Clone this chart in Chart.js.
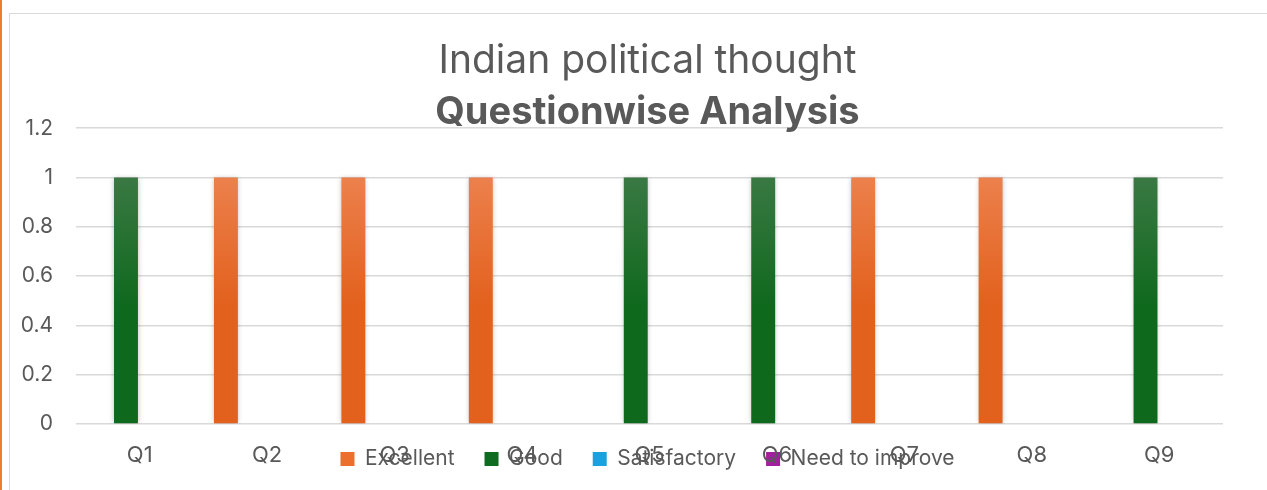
<!DOCTYPE html>
<html>
<head>
<meta charset="utf-8">
<script src="https://cdn.jsdelivr.net/npm/chart.js@4"></script>
<style>
  html, body { margin: 0; padding: 0; background: #fff; }
  #wrap { position: relative; width: 1267px; height: 490px; overflow: hidden; }
  #edge { position: absolute; left: 0; top: 0; width: 2px; height: 490px; background: #ED7D31; }
  #frame { position: absolute; left: 9px; top: 13px; width: 1400px; height: 600px;
    border: 1.5px solid #D9D9D9; }
  #c { position: absolute; left: 0; top: 0; }
</style>
</head>
<body>
<div id="wrap">
  <div id="edge"></div>
  <div id="frame"></div>
  <canvas id="c" width="1267" height="490"></canvas>
</div>
<script>
const questions = ['Q1', 'Q2', 'Q3', 'Q4', 'Q5', 'Q6', 'Q7', 'Q8', 'Q9'];
const excellent = [0, 1, 1, 1, 0, 0, 1, 1, 0];
const good = [1, 0, 0, 0, 1, 1, 0, 0, 1];
const satisfactory = [0, 0, 0, 0, 0, 0, 0, 0, 0];
const needToImprove = [0, 0, 0, 0, 0, 0, 0, 0, 0];
const yTicks = [0, 0.2, 0.4, 0.6, 0.8, 1, 1.2];

const textColor = '#595959';
const fontFamily = 'Inter, "Open Sans", sans-serif';

// gradient like the excel fill, light at top
const grad = (top, bottom, flat) => (ctx) => {
  const area = ctx.chart.chartArea;
  if (!area) return flat;
  const g = ctx.chart.ctx.createLinearGradient(0, area.top, 0, area.bottom);
  g.addColorStop(0, top);
  g.addColorStop(0.6, bottom);
  g.addColorStop(1, bottom);
  return g;
};

const legendColors = ['#EC6F2D', '#0F6B1F', '#1AA2DE', '#A21FA0'];

const barShadow = {
  id: 'barShadow',
  beforeDatasetsDraw(chart) {
    const c = chart.ctx;
    c.save();
    c.shadowColor = 'rgba(0,0,0,0.28)';
    c.shadowBlur = 5;
  },
  afterDatasetsDraw(chart) {
    chart.ctx.restore();
  },
};

// excel centres title/legend on the plot, and the legend sits over the axis labels
const excelLayout = {
  id: 'excelLayout',
  afterLayout(chart) {
    chart.boxes.forEach((box) => {
      if (!box.axis) box.left = 72;
    });
    const lg = chart.legend;
    const h = lg.height;
    lg.top = 459 - 30 - 10.5;
    lg.bottom = lg.top + h;
    const x = chart.scales.x;
    x.bottom = chart.height;
    x.height = x.bottom - x.top;
  },
};

new Chart(document.getElementById('c'), {
  type: 'bar',
  data: {
    labels: questions,
    datasets: [{
      label: 'Excellent',
      data: excellent,
      backgroundColor: grad('#F08C5E', '#E2611D', '#EC6F2D'),
    }, {
      label: 'Good',
      data: good,
      backgroundColor: grad('#4A7E52', '#0F691D', '#0F6B1F'),
    }, {
      label: 'Satisfactory',
      data: satisfactory,
      backgroundColor: '#1AA2DE',
    }, {
      label: 'Need to improve',
      data: needToImprove,
      backgroundColor: '#A21FA0',
    }],
  },
  plugins: [barShadow, excelLayout],
  options: {
    responsive: false,
    animation: false,
    layout: {
      padding: {left: 0, right: 44, top: 0, bottom: 5},
    },
    datasets: {
      bar: {
        categoryPercentage: 0.863,
        barPercentage: 0.87,
        borderWidth: 0,
      },
    },
    plugins: {
      title: {
        display: true,
        text: 'Indian political thought',
        color: textColor,
        font: {family: fontFamily, size: 39, weight: 'normal', lineHeight: 1.2},
        padding: {top: 38, bottom: 13},
      },
      subtitle: {
        display: true,
        text: 'Questionwise Analysis',
        color: textColor,
        font: {family: fontFamily, size: 38, weight: 'bold', lineHeight: 0.8},
        padding: {top: 0, bottom: 0},
      },
      legend: {
        position: 'bottom',
        labels: {
          color: textColor,
          font: {family: fontFamily, size: 21},
          boxWidth: 14,
          boxHeight: 14,
          padding: 30,
          generateLabels(chart) {
            const items = Chart.defaults.plugins.legend.labels.generateLabels(chart);
            items.forEach((it, i) => {
              it.fillStyle = legendColors[i];
              it.lineWidth = 0;
            });
            return items;
          },
        },
      },
      tooltip: {enabled: false},
    },
    scales: {
      x: {
        grid: {display: false},
        border: {display: false},
        ticks: {color: textColor, font: {family: fontFamily, size: 22}, padding: 10},
        afterFit(scale) {
          scale.height = 0;
        },
      },
      y: {
        min: 0,
        max: 1.2,
        afterBuildTicks(scale) {
          scale.ticks = yTicks.map((v) => ({value: v}));
        },
        grid: {color: '#D9D9D9', lineWidth: 1.5, drawTicks: false},
        border: {display: false},
        ticks: {
          color: textColor,
          font: {family: fontFamily, size: 21},
          padding: 23,
          callback: (v) => String(v),
        },
        afterFit(scale) {
          scale.width = 76;
        },
      },
    },
  },
});
</script>
</body>
</html>
